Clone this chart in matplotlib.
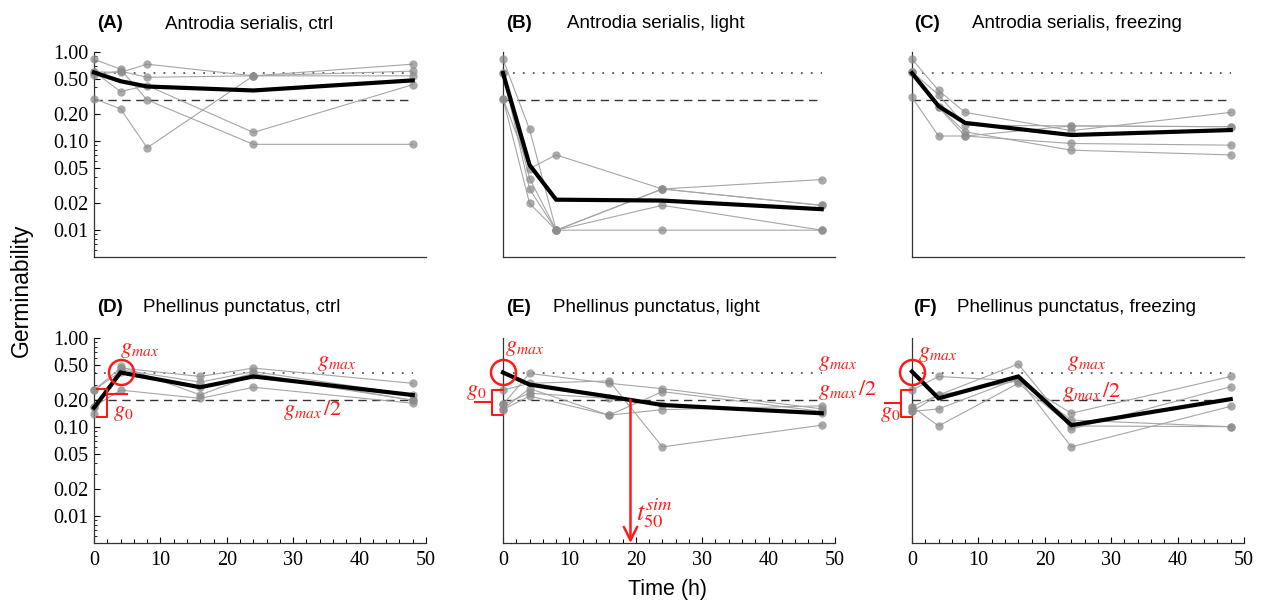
import numpy as np
import matplotlib
matplotlib.use("Agg")
import matplotlib.pyplot as plt
from matplotlib.ticker import FixedLocator, NullFormatter, FixedFormatter, MultipleLocator

plt.rcParams['mathtext.fontset'] = 'stix'

# ---------------- data ----------------
t_top = [0, 4, 8, 24, 48]
t_bot = [0, 4, 16, 24, 48]

# replicate germinability, panel A-F (5 replicates each)
A_reps = [[0.83, 0.64, 0.29, 0.092, 0.092],
          [0.30, 0.23, 0.084, 0.54, 0.54],
          [0.60, 0.36, 0.42, 0.125, 0.43],
          [0.60, 0.59, 0.73, 0.54, 0.73],
          [0.55, 0.61, 0.52, 0.54, 0.61]]
A_fit = [0.59, 0.47, 0.41, 0.37, 0.48]

B_reps = [[0.83, 0.135, 0.010, 0.029, 0.019],
          [0.30, 0.049, 0.070, 0.029, 0.037],
          [0.58, 0.038, 0.010, 0.019, 0.010],
          [0.58, 0.029, 0.010, 0.029, 0.019],
          [0.30, 0.020, 0.010, 0.010, 0.010]]
B_fit = [0.58, 0.054, 0.022, 0.0215, 0.0172]

C_reps = [[0.83, 0.37, 0.21, 0.131, 0.21],
          [0.60, 0.33, 0.151, 0.148, 0.145],
          [0.31, 0.114, 0.114, 0.094, 0.090],
          [0.60, 0.24, 0.127, 0.079, 0.070],
          [0.60, 0.24, 0.114, 0.148, 0.145]]
C_fit = [0.58, 0.247, 0.16, 0.117, 0.133]

D_reps = [[0.26, 0.46, 0.37, 0.46, 0.31],
          [0.17, 0.44, 0.32, 0.42, 0.23],
          [0.14, 0.48, 0.23, 0.38, 0.20],
          [0.17, 0.26, 0.21, 0.28, 0.185],
          [0.26, 0.42, 0.28, 0.40, 0.20]]
D_fit = [0.165, 0.41, 0.28, 0.37, 0.229]

E_reps = [[0.26, 0.31, 0.33, 0.060, 0.105],
          [0.18, 0.40, 0.31, 0.27, 0.16],
          [0.16, 0.27, 0.136, 0.25, 0.15],
          [0.18, 0.24, 0.21, 0.177, 0.143],
          [0.157, 0.223, 0.136, 0.157, 0.173]]
E_fit = [0.41, 0.30, 0.22, 0.177, 0.143]

F_reps = [[0.26, 0.37, 0.33, 0.143, 0.37],
          [0.17, 0.229, 0.51, 0.095, 0.284],
          [0.15, 0.16, 0.35, 0.060, 0.171],
          [0.17, 0.103, 0.31, 0.103, 0.101],
          [0.15, 0.229, 0.33, 0.12, 0.101]]
F_fit = [0.42, 0.21, 0.37, 0.105, 0.206]

gmax_ref = [0.58, 0.58, 0.58, 0.405, 0.405, 0.405]
t50_E = 19.2

letters = ["(A)", "(B)", "(C)", "(D)", "(E)", "(F)"]
titles = ["Antrodia serialis, ctrl", "Antrodia serialis, light",
          "Antrodia serialis, freezing", "Phellinus punctatus, ctrl",
          "Phellinus punctatus, light", "Phellinus punctatus, freezing"]
yticks = [1.0, 0.5, 0.2, 0.1, 0.05, 0.02, 0.01]
ytick_labels = ["1.00", "0.50", "0.20", "0.10", "0.05", "0.02", "0.01"]
xticks = [0, 10, 20, 30, 40, 50]

# ---------------- layout ----------------
W, H = 1264, 607
fig = plt.figure(figsize=(W / 100, H / 100), dpi=100)

col_left = [94, 503, 912]
ax_w = 332
row_top = [52, 338]
ax_h = 205

def fig_rect(l, t, w, h):
    return [l / W, 1 - (t + h) / H, w / W, h / H]

panels = [(t_top, A_reps, A_fit), (t_top, B_reps, B_fit), (t_top, C_reps, C_fit),
          (t_bot, D_reps, D_fit), (t_bot, E_reps, E_fit), (t_bot, F_reps, F_fit)]

serif = 'Liberation Serif'
sans = 'Liberation Sans'
red = '#ff1a1a'
axes = []
for i, (tt, reps, fit) in enumerate(panels):
    r, c = divmod(i, 3)
    ax = fig.add_axes(fig_rect(col_left[c], row_top[r], ax_w, ax_h))
    axes.append(ax)
    ax.set_yscale('log')
    ax.set_xlim(0, 50)
    ax.set_ylim(0.005, 1.0)
    for s in ['top', 'right']:
        ax.spines[s].set_visible(False)
    for s in ['left', 'bottom']:
        ax.spines[s].set_color('#333333')
        ax.spines[s].set_linewidth(0.9)

    g = gmax_ref[i]
    ax.plot([0, 48], [g, g], color='#555555', lw=1.3, ls=(0, (1, 4.5)), zorder=1)
    ax.plot([0, 48], [g / 2, g / 2], color='#333333', lw=1.0, ls=(0, (6, 4)), zorder=1)

    for rep in reps:
        ax.plot(tt, rep, color='#a6a6a6', lw=0.8, zorder=2, clip_on=False)
        ax.plot(tt, rep, ls='none', marker='o', ms=6, color='#8c8c8c',
                alpha=0.75, mec='none', zorder=3, clip_on=False)
    ax.plot(tt, fit, color='black', lw=3.0, zorder=4, solid_joinstyle='miter',
            clip_on=False)

    # ticks
    if c == 0:
        ax.yaxis.set_major_locator(FixedLocator(yticks))
        ax.yaxis.set_major_formatter(FixedFormatter(ytick_labels))
        minor = [k * 10.0 ** e for e in (-3, -2, -1) for k in range(1, 10)]
        minor = [m for m in minor if 0.005 <= m <= 1.0 and m not in yticks]
        ax.yaxis.set_minor_locator(FixedLocator(minor))
        ax.yaxis.set_minor_formatter(NullFormatter())
        ax.tick_params(axis='y', which='major', direction='in', length=4,
                       width=0.8, labelsize=14.5, pad=4)
        ax.tick_params(axis='y', which='minor', direction='in', length=2, width=0.6)
        for lab in ax.get_yticklabels():
            lab.set_fontfamily(serif)
    else:
        ax.yaxis.set_major_locator(FixedLocator([]))
        ax.yaxis.set_minor_locator(FixedLocator([]))
    if r == 1:
        ax.xaxis.set_major_locator(FixedLocator(xticks))
        ax.xaxis.set_minor_locator(MultipleLocator(2))
        ax.tick_params(axis='x', which='major', direction='in', length=4,
                       width=0.8, labelsize=14.5, pad=6)
        ax.tick_params(axis='x', which='minor', direction='in', length=3, width=0.7)
        for lab in ax.get_xticklabels():
            lab.set_fontfamily(serif)
    else:
        ax.xaxis.set_major_locator(FixedLocator([]))
        ax.xaxis.set_minor_locator(FixedLocator([]))

    # gmax circle at maximum of the fitted curve
    if r == 1:
        k = int(np.argmax(fit))
        ax.plot([tt[k]], [fit[k]], marker='o', ms=18, mfc='none', mec=red,
                mew=1.8, zorder=6, clip_on=False)

# titles
title_pos = [(97, 165, 24), (506, 567, 24), (914, 972, 24),
             (97, 143, 307), (506, 553, 307), (913, 957, 307)]
for i, (xl, xt, yc) in enumerate(title_pos):
    fig.text(xl / W, 1 - yc / H, letters[i], fontfamily=sans, fontweight='bold',
             fontsize=13.5, va='center', ha='left')
    fig.text(xt / W, 1 - yc / H, titles[i], fontfamily=sans,
             fontsize=13.5, va='center', ha='left')

fig.text(21 / W, 1 - 290 / H, "Germinability", fontfamily=sans, fontsize=16.5,
         rotation=90, va='center', ha='center')
fig.text(668 / W, 1 - 590 / H, "Time (h)", fontfamily=sans, fontsize=15.5,
         va='center', ha='center')

# ---------------- red annotations ----------------
fs = 16
axD, axE, axF = axes[3], axes[4], axes[5]
GM = r'$g_{max}$'
GM2 = r'$g_{max}\,/2$'
G0 = r'$g_0$'

# D
axD.text(3.9, 0.74, GM, color=red, fontsize=fs, va='center', ha='left')
axD.text(33.6, 0.53, GM, color=red, fontsize=fs, va='center', ha='left')
axD.text(28.4, 0.155, GM2, color=red, fontsize=fs, va='center', ha='left')
axD.text(2.9, 0.145, G0, color=red, fontsize=fs, va='center', ha='left')
axD.plot([0.5, 1.9, 1.9, 0.5], [0.265, 0.265, 0.13, 0.13], color=red, lw=1.5,
         clip_on=False, zorder=6)
axD.plot([1.9, 4.9], [0.235, 0.235], color=red, lw=1.5, clip_on=False, zorder=6)

# E
axE.text(0.3, 0.77, GM, color=red, fontsize=fs, va='center', ha='left')
axE.text(47.5, 0.52, GM, color=red, fontsize=fs, va='center', ha='left')
axE.text(47.5, 0.26, GM2, color=red, fontsize=fs, va='center', ha='left')
axE.text(-5.6, 0.25, G0, color=red, fontsize=fs, va='center', ha='left')
axE.plot([0, -1.7, -1.7, 0], [0.26, 0.26, 0.137, 0.137], color=red, lw=1.5,
         clip_on=False, zorder=6)
axE.plot([-1.7, -4.2], [0.19, 0.19], color=red, lw=1.5, clip_on=False, zorder=6)
axE.annotate('', xy=(t50_E, 0.005), xytext=(t50_E, gmax_ref[4] / 2),
             arrowprops=dict(arrowstyle='->', color=red, lw=1.8,
                             mutation_scale=24, shrinkA=0, shrinkB=0),
             annotation_clip=False, zorder=6)
axE.text(t50_E + 0.9, 0.0108, r'$t_{50}^{sim}$', color=red, fontsize=19,
         va='center', ha='left')

# F
axF.text(0.9, 0.66, GM, color=red, fontsize=fs, va='center', ha='left')
axF.text(23.4, 0.52, GM, color=red, fontsize=fs, va='center', ha='left')
axF.text(22.6, 0.25, GM2, color=red, fontsize=fs, va='center', ha='left')
axF.text(-4.8, 0.14, G0, color=red, fontsize=fs, va='center', ha='left')
axF.plot([0, -1.66, -1.66, 0], [0.26, 0.26, 0.13, 0.13], color=red, lw=1.5,
         clip_on=False, zorder=6)
axF.plot([-1.66, -4.1], [0.187, 0.187], color=red, lw=1.5, clip_on=False, zorder=6)

fig.savefig("out.png", dpi=100)
